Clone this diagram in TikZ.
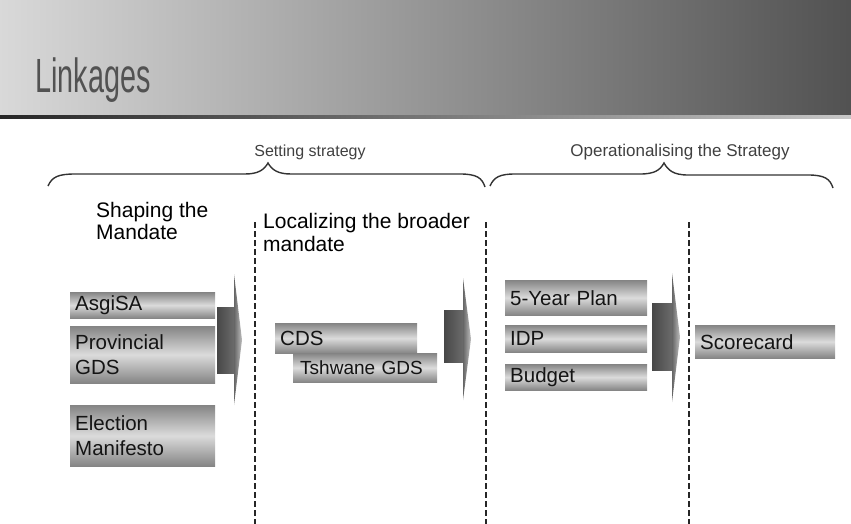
\documentclass[tikz,border=0pt]{standalone}
\usepackage{fontspec}
\usepackage{graphicx}
\setmainfont{Liberation Sans}
\begin{document}
\begin{tikzpicture}[x=1pt,y=-1pt,
  gbox/.style={rectangle, anchor=north west, inner xsep=5pt, inner ysep=0pt,
    top color=black!48, bottom color=black!48, middle color=black!14,
    font=\fontsize{20.5}{25}\selectfont, align=left, text=black!92},
  headtxt/.style={anchor=base west, inner sep=0pt, font=\fontsize{21}{23}\selectfont},
  captxt/.style={anchor=base, inner sep=0pt, font=\fontsize{16}{18}\selectfont, text=black!75},
  divider/.style={line width=1.8pt, dash pattern=on 6pt off 3pt, black!85},
  bracepath/.style={line width=1.4pt, black!80},
  shaft/.style={left color=black!72, right color=black!58},
  arrowhead/.style={left color=black!60, right color=black!25},
]
\useasboundingbox (0,0) rectangle (851,524);

% title banner
\shade[left color=black!15, right color=black!68] (0,0) rectangle (851,117);
\shade[left color=black!85, right color=black!22] (0,116) rectangle (851,119);
\node[anchor=base west, inner sep=0pt, text=black!68, font=\fontsize{48}{50}\selectfont]
  (title) at (35,93) {\scalebox{0.6}[1]{Linkages}};

% phase captions and braces
\node[captxt] (setting) at (310,157) {Setting strategy};
\node[captxt, font=\fontsize{17}{19}\selectfont] (oper) at (680,157) {Operationalising the Strategy};

\draw[bracepath] (48,186) .. controls (52,177) and (58,174) .. (75,174) -- (245,174)
  .. controls (258,174) and (264,170) .. (268,163)
  .. controls (272,170) and (278,174) .. (291,174) -- (460,174)
  .. controls (477,174) and (482,178) .. (485,187);
\draw[bracepath] (490,186) .. controls (494,177) and (500,174) .. (515,174) -- (640,174)
  .. controls (655,174) and (660,170) .. (664,163)
  .. controls (668,170) and (673,175) .. (688,175) -- (808,175)
  .. controls (825,175) and (830,179) .. (833,188);

% dashed dividers
\coordinate (d1t) at (255,222); \coordinate (d1b) at (255,524);
\coordinate (d2t) at (486,222); \coordinate (d2b) at (486,524);
\coordinate (d3t) at (689,222); \coordinate (d3b) at (689,524);
\draw[divider] (d1t) -- (d1b);
\draw[divider] (d2t) -- (d2b);
\draw[divider] (d3t) -- (d3b);

% column headings
\node[headtxt] (shapeA) at (96,217) {Shaping the};
\node[headtxt] (shapeB) at (96,239) {Mandate};
\node[headtxt] (localA) at (263,228) {Localizing the broader};
\node[headtxt] (localB) at (263,251) {mandate};

% shaded boxes
\node[gbox, minimum height=26pt, text width=135pt] (asgisa) at (70,292) {AsgiSA};
\node[gbox, minimum height=57pt, text width=135pt] (pgds) at (70,326) {Provincial\\GDS};
\node[gbox, minimum height=61pt, text width=135pt] (elect) at (70,405) {Election\\Manifesto};

\node[gbox, minimum height=30pt, text width=132pt] (cds) at (275,323) {CDS};
\node[gbox, minimum height=29pt, text width=134pt, inner xsep=5pt,
  font=\fontsize{19}{23}\selectfont] (tgds) at (293,353) {\hspace*{2pt}Tshwane GDS};

\node[gbox, minimum height=35pt, text width=132pt] (plan) at (505,280) {5-Year Plan};
\node[gbox, minimum height=27pt, text width=132pt] (idp) at (505,325) {IDP};
\node[gbox, minimum height=26pt, text width=132pt] (budget) at (505,364) {Budget};

\node[gbox, minimum height=33pt, text width=130pt] (score) at (695,325) {Scorecard};

% block arrows between the stages
\shade[shaft] (217,307) rectangle (234,373);
\shade[arrowhead] (234,274) -- (242,340) -- (234,405) -- cycle;

\shade[shaft] (444,310) rectangle (463,362);
\shade[arrowhead] (463,278) -- (471,339) -- (463,400) -- cycle;

\shade[shaft] (652,303) rectangle (672,370);
\shade[arrowhead] (672,273) -- (680,337) -- (672,402) -- cycle;
\end{tikzpicture}
\end{document}
